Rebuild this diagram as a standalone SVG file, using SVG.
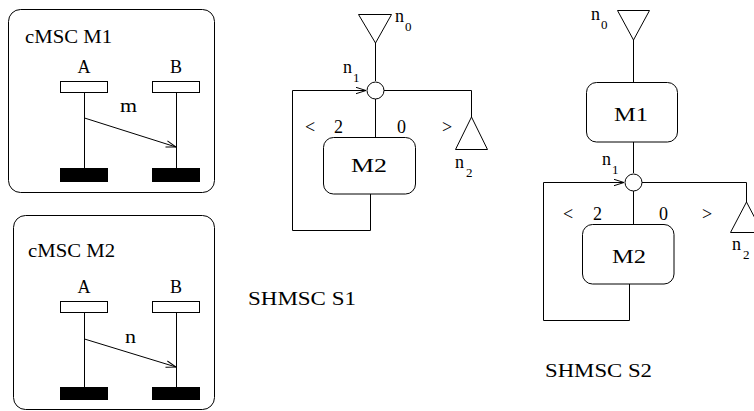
<svg xmlns="http://www.w3.org/2000/svg" width="754" height="411" viewBox="0 0 754 411">
<style>
text{font-family:"Liberation Serif","Times New Roman",serif;font-size:18px;fill:#000}
.sub{font-size:13px}
.ln{stroke:#000;stroke-width:1;fill:none}
.box{stroke:#000;stroke-width:1;fill:#fff}
.bar{fill:#000}
</style>
<defs>
<marker id="arr" markerUnits="userSpaceOnUse" markerWidth="12" markerHeight="8" refX="11" refY="4" orient="auto">
<path d="M1,0.8 L11,4 L1,7.2" fill="none" stroke="#000" stroke-width="1"/>
</marker>
</defs>
<rect width="754" height="411" fill="#fff"/>

<g id="cmsc-m1">
<rect class="box" x="8.5" y="9.5" width="206" height="183" rx="12"/>
<text x="25" y="43" textLength="87" lengthAdjust="spacingAndGlyphs">cMSC M1</text>
<text x="84" y="73" text-anchor="middle">A</text>
<text x="176" y="73" text-anchor="middle">B</text>
<rect class="box" x="60.5" y="81.5" width="47" height="11"/>
<rect class="box" x="152.5" y="81.5" width="47" height="11"/>
<line class="ln" x1="84.5" y1="93" x2="84.5" y2="168"/>
<line class="ln" x1="176.5" y1="93" x2="176.5" y2="168"/>
<rect class="bar" x="60" y="168" width="48" height="14"/>
<rect class="bar" x="152" y="168" width="48" height="14"/>
<line class="ln" x1="84.5" y1="118" x2="176" y2="147" marker-end="url(#arr)"/>
<text x="120" y="112" textLength="17" lengthAdjust="spacingAndGlyphs">m</text>
</g>

<g id="cmsc-m2">
<rect class="box" x="13.5" y="215.5" width="201" height="194" rx="12"/>
<text x="28" y="257" textLength="87" lengthAdjust="spacingAndGlyphs">cMSC M2</text>
<text x="84" y="293" text-anchor="middle">A</text>
<text x="176" y="293" text-anchor="middle">B</text>
<rect class="box" x="60.5" y="301.5" width="47" height="11"/>
<rect class="box" x="152.5" y="301.5" width="47" height="11"/>
<line class="ln" x1="84.5" y1="313" x2="84.5" y2="387"/>
<line class="ln" x1="176.5" y1="313" x2="176.5" y2="387"/>
<rect class="bar" x="60" y="387" width="48" height="13"/>
<rect class="bar" x="152" y="387" width="48" height="13"/>
<line class="ln" x1="84.5" y1="339" x2="176" y2="367" marker-end="url(#arr)"/>
<text x="125" y="343" textLength="11" lengthAdjust="spacingAndGlyphs">n</text>
</g>

<g id="s1-connectors">
<line class="ln" x1="375.5" y1="43" x2="375.5" y2="81"/>
<line class="ln" x1="375.5" y1="99" x2="375.5" y2="137"/>
<path class="ln" d="M370.5,194 V230.5 H292.5 V90.5 H366" marker-end="url(#arr)"/>
<path class="ln" d="M384,90.5 H471.5 V117"/>
</g>
<g id="s1-n0">
<path class="box" d="M358.5,14.5 L391.5,14.5 L375.5,43 Z"/>
<text x="395" y="22">n</text><text class="sub" x="405" y="31">0</text>
</g>
<g id="s1-n1">
<circle class="box" cx="375.5" cy="90.5" r="8.5"/>
<text x="343" y="73">n</text><text class="sub" x="353" y="82">1</text>
</g>
<g id="s1-n2">
<path class="box" d="M471.5,117 L455.5,149.5 L487.5,149.5 Z"/>
<text x="455" y="168">n</text><text class="sub" x="466" y="177">2</text>
</g>
<g id="s1-m2">
<rect class="box" x="323.5" y="137.5" width="92" height="56.5" rx="10"/>
<text x="369" y="172" text-anchor="middle" textLength="36" lengthAdjust="spacingAndGlyphs">M2</text>
</g>
<g id="s1-bounds">
<text x="305" y="133">&lt;</text>
<text x="334" y="133">2</text>
<text x="397" y="133">0</text>
<text x="442" y="133">&gt;</text>
</g>
<text x="248" y="305" textLength="108" lengthAdjust="spacingAndGlyphs">SHMSC S1</text>

<g id="s2-connectors">
<line class="ln" x1="633.5" y1="40" x2="633.5" y2="82"/>
<line class="ln" x1="633.5" y1="142" x2="633.5" y2="173"/>
<line class="ln" x1="633.5" y1="191" x2="633.5" y2="224"/>
<path class="ln" d="M629.5,284 V320.5 H543.5 V182.5 H624" marker-end="url(#arr)"/>
<path class="ln" d="M642,182.5 H746.5 V202"/>
</g>
<g id="s2-n0">
<path class="box" d="M617.5,10.5 L649.5,10.5 L633.5,40 Z"/>
<text x="591" y="20">n</text><text class="sub" x="601" y="29">0</text>
</g>
<g id="s2-m1">
<rect class="box" x="586.5" y="82.5" width="91" height="59.5" rx="10"/>
<text x="631" y="121" text-anchor="middle" textLength="34" lengthAdjust="spacingAndGlyphs">M1</text>
</g>
<g id="s2-n1">
<circle class="box" cx="633.5" cy="182.5" r="8.5"/>
<text x="602" y="165">n</text><text class="sub" x="612" y="174">1</text>
</g>
<g id="s2-n2">
<path class="box" d="M746.5,202 L730.5,232.5 L762.5,232.5 Z"/>
<text x="732" y="250">n</text><text class="sub" x="743" y="259">2</text>
</g>
<g id="s2-m2">
<rect class="box" x="582.5" y="224.5" width="91.5" height="59.5" rx="10"/>
<text x="629" y="263" text-anchor="middle" textLength="34" lengthAdjust="spacingAndGlyphs">M2</text>
</g>
<g id="s2-bounds">
<text x="563" y="220">&lt;</text>
<text x="593" y="220">2</text>
<text x="659" y="220">0</text>
<text x="702" y="220">&gt;</text>
</g>
<text x="545" y="377" textLength="107" lengthAdjust="spacingAndGlyphs">SHMSC S2</text>
</svg>
